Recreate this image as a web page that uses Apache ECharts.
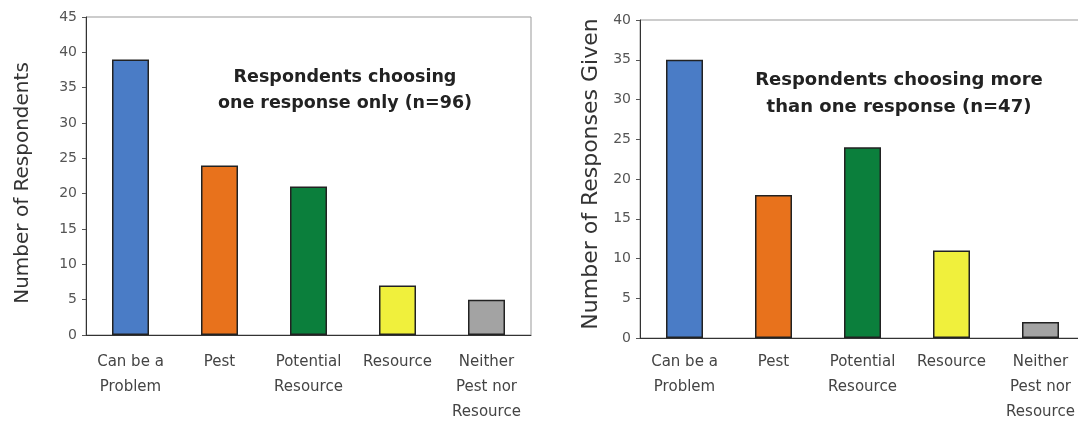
<!DOCTYPE html>
<html>
<head>
<meta charset="utf-8">
<script src="https://cdn.jsdelivr.net/npm/echarts@6/dist/echarts.min.js"></script>
<style>
html,body{margin:0;padding:0;background:#fff;overflow:hidden;}
#chart{width:1086px;height:425px;}
</style>
</head>
<body>
<div id="chart"></div>
<script>
var categories = ['Can be a\nProblem', 'Pest', 'Potential\nResource', 'Resource', 'Neither\nPest nor\nResource'];
var oneResponseValues = [39, 24, 21, 7, 5];
var multiResponseValues = [35, 18, 24, 11, 2];
var barColors = ['#4a7cc6', '#e8721c', '#0b7f3c', '#f0f03c', '#a3a3a3'];
var leftTicks = { min: 0, max: 45, interval: 5 };
var rightTicks = { min: 0, max: 40, interval: 5 };
var leftTitle = 'Number of Respondents';
var rightTitle = 'Number of Responses Given';
var leftNote = 'Respondents choosing\none response only (n=96)';
var rightNote = 'Respondents choosing more\nthan one response (n=47)';

var FONT = 'DejaVu Sans';
var chart = echarts.init(document.getElementById('chart'), null, { renderer: 'canvas' });

function coloredData(vals) {
  return vals.map(function (v, i) {
    return { value: v, itemStyle: { color: barColors[i] } };
  });
}

function xAxisDef(gridIndex, margin) {
  return {
    type: 'category', gridIndex: gridIndex, data: categories,
    axisLine: { show: true, lineStyle: { color: '#333', width: 1 } },
    axisTick: { show: false },
    axisLabel: { interval: 0, color: '#444', fontFamily: FONT, fontSize: 15, lineHeight: 25, margin: margin },
    splitLine: { show: false }
  };
}

function yAxisDef(gridIndex, ticks, name, gap, nameSize, namePad) {
  return {
    type: 'value', gridIndex: gridIndex, min: ticks.min, max: ticks.max, interval: ticks.interval,
    name: name, nameLocation: 'middle', nameRotate: 90, nameGap: gap,
    nameTextStyle: { color: '#333', fontFamily: FONT, fontSize: nameSize, padding: namePad },
    axisLine: { show: true, lineStyle: { color: '#333', width: 1 } },
    axisTick: { show: true, inside: false, length: 4, lineStyle: { color: '#555' } },
    axisLabel: { color: '#555', fontFamily: FONT, fontSize: 14, margin: 9 },
    splitLine: { show: false }
  };
}

chart.setOption({
  animation: false,
  backgroundColor: '#fff',
  grid: [
    { left: 86, top: 17, right: 555, bottom: 87, show: true, borderColor: '#999', borderWidth: 1, backgroundColor: 'transparent' },
    { left: 640, top: 20, right: 1, bottom: 83, show: true, borderColor: '#999', borderWidth: 1, backgroundColor: 'transparent' }
  ],
  xAxis: [xAxisDef(0, 15), xAxisDef(1, 12)],
  yAxis: [
    yAxisDef(0, leftTicks, leftTitle, 53, 20, [0, 14, 0, 0]),
    yAxisDef(1, rightTicks, rightTitle, 38, 22, [0, 0, 0, 10])
  ],
  series: [
    {
      type: 'bar', xAxisIndex: 0, yAxisIndex: 0, barWidth: 37,
      data: coloredData(oneResponseValues),
      itemStyle: { borderColor: '#222', borderWidth: 1.5 }
    },
    {
      type: 'bar', xAxisIndex: 1, yAxisIndex: 1, barWidth: 37,
      data: coloredData(multiResponseValues),
      itemStyle: { borderColor: '#222', borderWidth: 1.5 }
    }
  ],
  graphic: [
    {
      type: 'text', x: 345, y: 64,
      style: { text: leftNote, fill: '#222', fontFamily: FONT, fontWeight: 'bold', fontSize: 17.5, lineHeight: 26, align: 'center', verticalAlign: 'top' }
    },
    {
      type: 'text', x: 899, y: 67,
      style: { text: rightNote, fill: '#222', fontFamily: FONT, fontWeight: 'bold', fontSize: 18, lineHeight: 27, align: 'center', verticalAlign: 'top' }
    }
  ]
});
</script>
</body>
</html>
